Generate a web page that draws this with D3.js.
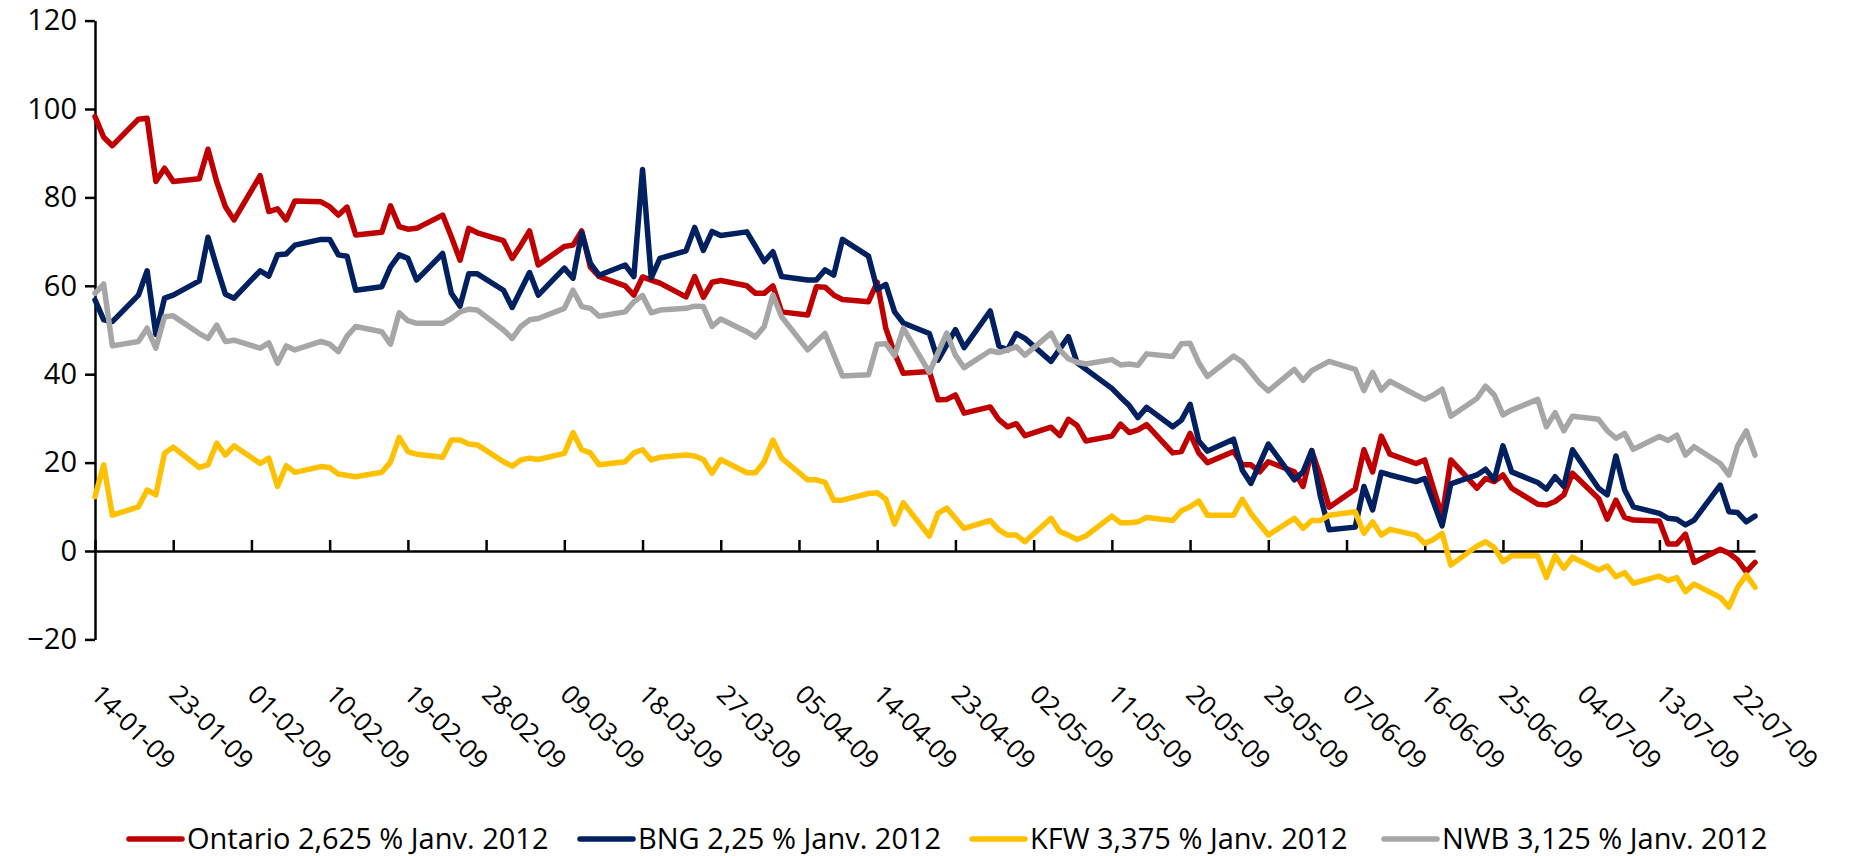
<!DOCTYPE html>
<html>
<head>
<meta charset="utf-8">
<script src="https://cdn.jsdelivr.net/npm/d3@7"></script>
<style>
    body { margin: 0; background: #fff; }
    text { font-family: "Open Sans", "Liberation Sans", sans-serif; fill: #000; }
    .axis path, .axis line { stroke: #000; stroke-width: 2.5px; }
    .series { fill: none; stroke-width: 5.5px; stroke-linejoin: round; stroke-linecap: round; }
</style>
</head>
<body>
<svg id="chart" width="1851" height="856"></svg>
<script>
// écarts de taux (pb), jours ouvrés 2009
var ontario = [
    ["14-01", 98.3], ["15-01", 93.6], ["16-01", 91.7], ["19-01", 97.7], ["20-01", 97.9], ["21-01", 83.6], ["22-01", 86.6], ["23-01", 83.6],
    ["26-01", 84.2], ["27-01", 90.9], ["28-01", 83.6], ["29-01", 77.9], ["30-01", 74.9], ["02-02", 84.9], ["03-02", 76.8], ["04-02", 77.4],
    ["05-02", 74.9], ["06-02", 79.2], ["09-02", 79.0], ["10-02", 77.9], ["11-02", 76.0], ["12-02", 77.8], ["13-02", 71.5], ["16-02", 72.1],
    ["17-02", 78.1], ["18-02", 73.4], ["19-02", 72.8], ["20-02", 73.0], ["23-02", 76.0], ["24-02", 71.1], ["25-02", 65.8], ["26-02", 73.0],
    ["27-02", 72.0], ["02-03", 70.2], ["03-03", 66.2], ["04-03", 69.2], ["05-03", 72.4], ["06-03", 64.7], ["09-03", 68.9], ["10-03", 69.2],
    ["11-03", 72.4], ["12-03", 64.2], ["13-03", 62.1], ["16-03", 60.0], ["17-03", 57.9], ["18-03", 62.0], ["19-03", 61.3], ["20-03", 60.6],
    ["23-03", 57.5], ["24-03", 62.1], ["25-03", 57.4], ["26-03", 60.8], ["27-03", 61.2], ["30-03", 60.0], ["31-03", 58.3], ["01-04", 58.3],
    ["02-04", 60.0], ["03-04", 54.1], ["06-04", 53.4], ["07-04", 59.8], ["08-04", 59.7], ["09-04", 57.9], ["10-04", 56.9], ["13-04", 56.4],
    ["14-04", 60.8], ["15-04", 50.3], ["16-04", 44.7], ["17-04", 40.2], ["20-04", 40.6], ["21-04", 34.2], ["22-04", 34.3], ["23-04", 35.3],
    ["24-04", 31.2], ["27-04", 32.6], ["28-04", 29.7], ["29-04", 28.1], ["30-04", 28.8], ["01-05", 26.1], ["04-05", 28.0], ["05-05", 26.1],
    ["06-05", 29.8], ["07-05", 28.4], ["08-05", 24.9], ["11-05", 26.0], ["12-05", 28.7], ["13-05", 26.8], ["14-05", 27.4], ["15-05", 28.6],
    ["18-05", 22.2], ["19-05", 22.5], ["20-05", 26.6], ["21-05", 22.2], ["22-05", 20.0], ["25-05", 22.5], ["26-05", 19.5], ["27-05", 19.5],
    ["28-05", 17.9], ["29-05", 20.2], ["01-06", 17.9], ["02-06", 14.6], ["03-06", 22.7], ["04-06", 16.8], ["05-06", 9.9], ["08-06", 14.0],
    ["09-06", 22.9], ["10-06", 17.9], ["11-06", 26.0], ["12-06", 21.9], ["15-06", 19.8], ["16-06", 20.6], ["18-06", 7.8], ["19-06", 20.6],
    ["22-06", 14.2], ["23-06", 16.4], ["24-06", 15.7], ["25-06", 17.2], ["26-06", 14.2], ["29-06", 10.6], ["30-06", 10.4], ["01-07", 11.2],
    ["02-07", 12.7], ["03-07", 17.6], ["06-07", 11.9], ["07-07", 7.2], ["08-07", 11.5], ["09-07", 7.6], ["10-07", 7.0], ["13-07", 6.8],
    ["14-07", 1.6], ["15-07", 1.6], ["16-07", 3.8], ["17-07", -2.6], ["20-07", 0.4], ["21-07", -0.5], ["22-07", -2.0], ["23-07", -4.7],
    ["24-07", -2.6]
];

var bng = [
    ["14-01", 56.8], ["15-01", 52.3], ["16-01", 51.9], ["19-01", 57.9], ["20-01", 63.4], ["21-01", 49.0], ["22-01", 57.2], ["23-01", 57.9],
    ["26-01", 61.1], ["27-01", 71.0], ["28-01", 64.3], ["29-01", 58.1], ["30-01", 57.2], ["02-02", 63.4], ["03-02", 62.2], ["04-02", 67.0],
    ["05-02", 67.2], ["06-02", 69.2], ["09-02", 70.5], ["10-02", 70.5], ["11-02", 67.0], ["12-02", 66.7], ["13-02", 59.0], ["16-02", 59.8],
    ["17-02", 64.3], ["18-02", 67.0], ["19-02", 66.2], ["20-02", 61.3], ["23-02", 67.3], ["24-02", 58.3], ["25-02", 55.4], ["26-02", 62.7],
    ["27-02", 62.7], ["02-03", 59.0], ["03-03", 55.1], ["05-03", 63.0], ["06-03", 57.9], ["09-03", 64.0], ["10-03", 61.7], ["11-03", 72.0],
    ["12-03", 65.1], ["13-03", 62.4], ["16-03", 64.7], ["17-03", 62.1], ["18-03", 86.3], ["19-03", 61.8], ["20-03", 66.2], ["23-03", 67.9],
    ["24-03", 73.2], ["25-03", 68.0], ["26-03", 72.3], ["27-03", 71.4], ["30-03", 72.2], ["31-03", 68.9], ["01-04", 65.5], ["02-04", 67.7],
    ["03-04", 62.1], ["06-04", 61.3], ["07-04", 61.3], ["08-04", 63.6], ["09-04", 62.4], ["10-04", 70.5], ["13-04", 66.7], ["14-04", 59.2],
    ["15-04", 60.3], ["16-04", 54.1], ["17-04", 51.6], ["20-04", 49.2], ["21-04", 43.2], ["23-04", 50.1], ["24-04", 46.0], ["27-04", 54.3],
    ["28-04", 46.4], ["29-04", 45.5], ["30-04", 49.2], ["01-05", 48.1], ["04-05", 42.9], ["06-05", 48.5], ["07-05", 42.6], ["11-05", 36.8],
    ["12-05", 34.8], ["13-05", 32.9], ["14-05", 30.2], ["15-05", 32.5], ["18-05", 28.1], ["19-05", 29.6], ["20-05", 33.2], ["21-05", 24.9],
    ["22-05", 22.6], ["25-05", 25.3], ["26-05", 18.3], ["27-05", 15.3], ["29-05", 24.2], ["01-06", 16.1], ["02-06", 17.9], ["03-06", 22.7],
    ["04-06", 12.3], ["05-06", 4.8], ["08-06", 5.4], ["09-06", 14.6], ["10-06", 9.3], ["11-06", 17.8], ["12-06", 17.2], ["15-06", 15.7],
    ["16-06", 16.4], ["18-06", 5.7], ["19-06", 15.2], ["22-06", 17.2], ["23-06", 18.5], ["24-06", 16.1], ["25-06", 23.8], ["26-06", 17.9],
    ["29-06", 15.5], ["30-06", 14.0], ["01-07", 16.8], ["02-07", 14.6], ["03-07", 22.9], ["06-07", 14.2], ["07-07", 12.7], ["08-07", 21.5],
    ["09-07", 13.8], ["10-07", 10.0], ["13-07", 8.5], ["14-07", 7.4], ["15-07", 7.2], ["16-07", 5.9], ["17-07", 7.0], ["20-07", 14.9],
    ["21-07", 8.9], ["22-07", 8.7], ["23-07", 6.6], ["24-07", 7.9]
];

var kfw = [
    ["14-01", 12.3], ["15-01", 19.5], ["16-01", 8.1], ["19-01", 10.0], ["20-01", 13.8], ["21-01", 12.7], ["22-01", 22.1], ["23-01", 23.5],
    ["26-01", 18.9], ["27-01", 19.5], ["28-01", 24.4], ["29-01", 21.7], ["30-01", 23.8], ["02-02", 19.8], ["03-02", 21.0], ["04-02", 14.6],
    ["05-02", 19.3], ["06-02", 17.8], ["09-02", 19.1], ["10-02", 18.9], ["11-02", 17.4], ["13-02", 16.8], ["16-02", 17.8], ["17-02", 20.1],
    ["18-02", 25.7], ["19-02", 22.5], ["20-02", 21.9], ["23-02", 21.2], ["24-02", 25.1], ["25-02", 25.1], ["26-02", 24.2], ["27-02", 24.0],
    ["02-03", 20.2], ["03-03", 19.2], ["04-03", 20.6], ["05-03", 21.0], ["06-03", 20.7], ["09-03", 22.1], ["10-03", 26.8], ["11-03", 22.9],
    ["12-03", 22.2], ["13-03", 19.5], ["16-03", 20.2], ["17-03", 22.2], ["18-03", 22.9], ["19-03", 20.6], ["20-03", 21.2], ["23-03", 21.7],
    ["24-03", 21.5], ["25-03", 20.7], ["26-03", 17.6], ["27-03", 20.7], ["30-03", 17.7], ["31-03", 17.7], ["01-04", 20.2], ["02-04", 25.1],
    ["03-04", 21.0], ["06-04", 16.1], ["07-04", 16.1], ["08-04", 15.5], ["09-04", 11.5], ["10-04", 11.5], ["13-04", 13.0], ["14-04", 13.2],
    ["15-04", 11.7], ["16-04", 6.1], ["17-04", 10.9], ["20-04", 3.4], ["21-04", 8.5], ["22-04", 9.7], ["23-04", 7.4], ["24-04", 5.1],
    ["27-04", 6.9], ["28-04", 4.8], ["29-04", 3.6], ["30-04", 3.6], ["01-05", 2.1], ["04-05", 7.4], ["05-05", 4.4], ["06-05", 3.6],
    ["07-05", 2.6], ["08-05", 3.4], ["11-05", 7.9], ["12-05", 6.4], ["13-05", 6.4], ["14-05", 6.6], ["15-05", 7.6], ["18-05", 6.9],
    ["19-05", 9.1], ["20-05", 10.0], ["21-05", 11.3], ["22-05", 8.1], ["25-05", 8.1], ["26-05", 11.7], ["27-05", 8.5], ["29-05", 3.6],
    ["01-06", 7.4], ["02-06", 5.1], ["03-06", 6.9], ["04-06", 6.9], ["05-06", 8.1], ["08-06", 8.9], ["09-06", 4.0], ["10-06", 6.6],
    ["11-06", 3.6], ["12-06", 4.9], ["15-06", 3.6], ["16-06", 1.7], ["17-06", 2.6], ["18-06", 4.0], ["19-06", -3.2], ["22-06", 1.1],
    ["23-06", 2.1], ["24-06", 0.8], ["25-06", -2.4], ["26-06", -1.1], ["29-06", -1.1], ["30-06", -6.0], ["01-07", -1.1], ["02-07", -3.9],
    ["03-07", -1.4], ["06-07", -4.3], ["07-07", -3.4], ["08-07", -5.8], ["09-07", -4.9], ["10-07", -7.3], ["13-07", -5.7], ["14-07", -6.7],
    ["15-07", -6.0], ["16-07", -9.2], ["17-07", -7.5], ["20-07", -10.5], ["21-07", -12.7], ["22-07", -8.2], ["23-07", -5.4], ["24-07", -8.2]
];

var nwb = [
    ["14-01", 58.3], ["15-01", 60.4], ["16-01", 46.4], ["19-01", 47.4], ["20-01", 50.4], ["21-01", 45.9], ["22-01", 53.0], ["23-01", 53.2],
    ["26-01", 49.2], ["27-01", 48.1], ["28-01", 51.1], ["29-01", 47.4], ["30-01", 47.7], ["02-02", 45.9], ["03-02", 47.1], ["04-02", 42.5],
    ["05-02", 46.4], ["06-02", 45.5], ["09-02", 47.4], ["10-02", 46.8], ["11-02", 45.1], ["12-02", 48.6], ["13-02", 50.8], ["16-02", 49.6],
    ["17-02", 46.8], ["18-02", 53.9], ["19-02", 52.1], ["20-02", 51.5], ["23-02", 51.5], ["24-02", 52.6], ["25-02", 54.1], ["26-02", 54.7],
    ["27-02", 54.5], ["02-03", 50.0], ["03-03", 48.1], ["04-03", 50.8], ["05-03", 52.3], ["06-03", 52.6], ["09-03", 54.9], ["10-03", 59.0],
    ["11-03", 55.3], ["12-03", 54.9], ["13-03", 53.1], ["16-03", 54.1], ["17-03", 56.4], ["18-03", 57.8], ["19-03", 53.9], ["20-03", 54.5],
    ["23-03", 54.9], ["24-03", 55.4], ["25-03", 55.3], ["26-03", 50.8], ["27-03", 52.5], ["30-03", 49.6], ["31-03", 48.4], ["01-04", 50.8],
    ["02-04", 57.9], ["03-04", 53.0], ["06-04", 45.5], ["07-04", 47.4], ["08-04", 49.2], ["10-04", 39.6], ["13-04", 39.9], ["14-04", 46.8],
    ["15-04", 46.9], ["16-04", 44.2], ["17-04", 50.4], ["20-04", 40.4], ["22-04", 49.3], ["23-04", 44.3], ["24-04", 41.5], ["27-04", 45.3],
    ["28-04", 44.9], ["29-04", 45.5], ["30-04", 46.2], ["01-05", 44.3], ["04-05", 49.3], ["05-05", 45.5], ["06-05", 43.5], ["07-05", 42.7],
    ["08-05", 42.3], ["11-05", 43.3], ["12-05", 42.1], ["13-05", 42.3], ["14-05", 42.0], ["15-05", 44.6], ["18-05", 44.0], ["19-05", 46.9],
    ["20-05", 47.0], ["21-05", 42.6], ["22-05", 39.5], ["25-05", 44.1], ["26-05", 42.8], ["28-05", 38.0], ["29-05", 36.2], ["01-06", 41.1],
    ["02-06", 38.6], ["03-06", 40.8], ["05-06", 42.9], ["08-06", 41.1], ["09-06", 36.3], ["10-06", 40.4], ["11-06", 36.4], ["12-06", 38.4],
    ["15-06", 35.3], ["16-06", 34.3], ["17-06", 35.3], ["18-06", 36.6], ["19-06", 30.5], ["22-06", 34.5], ["23-06", 37.3], ["24-06", 35.3],
    ["25-06", 30.8], ["26-06", 31.9], ["29-06", 34.3], ["30-06", 28.1], ["01-07", 31.3], ["02-07", 27.2], ["03-07", 30.5], ["06-07", 29.8],
    ["07-07", 27.2], ["08-07", 25.5], ["09-07", 26.6], ["10-07", 23.0], ["13-07", 25.9], ["14-07", 25.0], ["15-07", 26.2], ["16-07", 21.7],
    ["17-07", 23.6], ["20-07", 19.8], ["21-07", 17.2], ["22-07", 23.8], ["23-07", 27.2], ["24-07", 21.7]
];

var seriesNames = ["Ontario 2,625 % Janv. 2012", "BNG 2,25 % Janv. 2012", "KFW 3,375 % Janv. 2012", "NWB 3,125 % Janv. 2012"];
var seriesColors = ["#C00000", "#002060", "#FFC000", "#A6A6A6"];
var yTicks = [-20, 0, 20, 40, 60, 80, 100, 120];
var xTickLabels = ["14-01-09", "23-01-09", "01-02-09", "10-02-09", "19-02-09", "28-02-09", "09-03-09", "18-03-09",
    "27-03-09", "05-04-09", "14-04-09", "23-04-09", "02-05-09", "11-05-09", "20-05-09", "29-05-09", "07-06-09",
    "16-06-09", "25-06-09", "04-07-09", "13-07-09", "22-07-09"];

var parseDay = d3.timeParse("%d-%m-%Y");
var parseTick = d3.timeParse("%d-%m-%y");

var svg = d3.select("#chart");

var x = d3.scaleTime()
    .domain([parseDay("14-01-2009"), parseDay("24-07-2009")])
    .range([95, 1755]);

var y = d3.scaleLinear()
    .domain([-20, 120])
    .range([639.4, 20.6]);

// axe vertical
svg.append("g")
    .attr("class", "axis")
    .attr("transform", "translate(95,0)")
    .call(d3.axisLeft(y).tickValues(yTicks).tickSize(10).tickSizeOuter(0).tickPadding(8).tickFormat(d3.format("d")))
    .call(function(g) {
        g.selectAll("text").style("font-size", "29px").style("font-family", null);
    });

// axe horizontal sur le zéro, graduations vers le haut
svg.append("g")
    .attr("class", "axis")
    .attr("transform", "translate(0," + y(0) + ")")
    .call(d3.axisBottom(x)
        .tickValues(xTickLabels.map(function(d) { return parseTick(d); }))
        .tickSize(-11)
        .tickSizeOuter(0)
        .tickFormat(d3.timeFormat("%d-%m-%y")))
    .call(function(g) {
        g.selectAll("text")
            .attr("x", 0)
            .attr("y", 0)
            .attr("dy", 0)
            .attr("text-anchor", "start")
            .attr("transform", "translate(-6," + (696 - y(0)) + ") rotate(45)")
            .style("font-size", "26px")
            .style("font-family", null);
    });

var line = d3.line()
    .x(function(d) { return x(d.date); })
    .y(function(d) { return y(d.value); });

var allSeries = [ontario, bng, kfw, nwb].map(function(s, i) {
    return {
        name: seriesNames[i],
        color: seriesColors[i],
        values: s.map(function(p) {
            return { date: parseDay(p[0] + "-2009"), value: p[1] };
        })
    };
});

svg.append("g")
    .selectAll("path")
    .data(allSeries)
    .enter().append("path")
    .attr("class", "series")
    .attr("stroke", function(d) { return d.color; })
    .attr("d", function(d) { return line(d.values); });

// légende
var legendX = [127, 578, 970, 1382];
var legend = svg.append("g")
    .selectAll("g")
    .data(allSeries)
    .enter().append("g")
    .attr("transform", function(d, i) { return "translate(" + legendX[i] + ",839)"; });

legend.append("line")
    .attr("x1", 2)
    .attr("x2", 55)
    .attr("stroke", function(d) { return d.color; })
    .attr("stroke-width", 5.5)
    .attr("stroke-linecap", "round");

legend.append("text")
    .attr("x", 60)
    .attr("y", 10)
    .style("font-size", "29px")
    .text(function(d) { return d.name; });
</script>
</body>
</html>
